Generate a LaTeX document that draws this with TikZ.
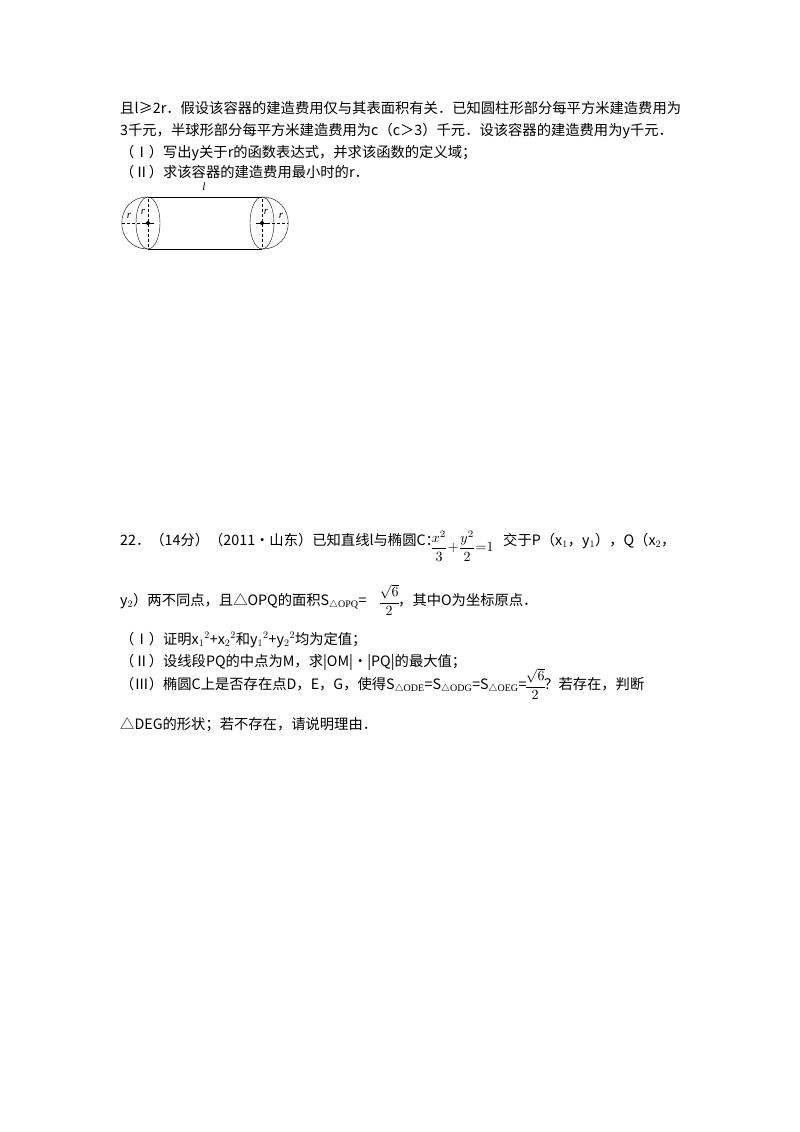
\documentclass[tikz,border=0pt]{standalone}
\usepackage{fontspec}
\setmainfont{Liberation Serif}
\newfontfamily\cjk{Noto Sans CJK SC}
\begin{document}
\begin{tikzpicture}[x=1pt,y=-1pt,
  txt/.style={anchor=base west,inner sep=0pt,font=\cjk\fontsize{14.3}{16}\selectfont},
  frac/.style={inner sep=0pt,anchor=west},
  lbl/.style={inner sep=0pt,font=\itshape\fontsize{11}{12}\selectfont}]
\useasboundingbox[fill=white] (0,0) rectangle (800,1132);
\node[txt] (l1) at (120,113) {且l≥2r．假设该容器的建造费用仅与其表面积有关．已知圆柱形部分每平方米建造费用为};
\node[txt] (l2) at (120,135) {3千元，半球形部分每平方米建造费用为c（c＞3）千元．设该容器的建造费用为y千元．};
\node[txt] (l3) at (120,157) {（Ⅰ）写出y关于r的函数表达式，并求该函数的定义域；};
\node[txt] (l4) at (120,177) {（Ⅱ）求该容器的建造费用最小时的r．};
% figure
\draw (148,197) -- (262,197) (148,249) -- (262,249);
\draw (148,223) ellipse (12 and 26);
\draw (262,223) ellipse (12 and 26);
\draw (148,197) .. controls (113,197) and (113,249) .. (148,249);
\draw (262,197) .. controls (297,197) and (297,249) .. (262,249);
\draw[densely dashed] (148,199) -- (148,247) (262,199) -- (262,247);
\draw[densely dashed] (122,223) -- (148,223) (262,223) -- (288,223);
\fill (148,223) circle (2) (262,223) circle (2);
\draw (142,223) -- (154,223) (256,223) -- (268,223);
\node[lbl] (ll) at (204,187) {l};
\node[lbl] (r1) at (129,216) {r};
\node[lbl] (r2) at (143,212) {r};
\node[lbl] (r3) at (266,212) {r};
\node[lbl] (r4) at (281,216) {r};
% problem 22
\node[txt] (p1) at (120,545) {22．（14分）（2011•山东）已知直线l与椭圆C：};
\node[frac] (f1) at (430,546) {\scalebox{1.4}{$\displaystyle\frac{x^2}{3}{+}\frac{y^2}{2}{=}1$}};
\node[txt] (p1b) at (503,545) {交于P（x$_1$，y$_1$），Q（x$_2$，};
\node[txt] (p2) at (120,605) {y$_2$）两不同点，且△OPQ的面积S$_{\triangle\mathrm{OPQ}}$=};
\node[frac] (f2) at (378,600) {\scalebox{1.4}{$\displaystyle\frac{\sqrt{6}}{2}$}};
\node[txt] (p2b) at (398,605) {，其中O为坐标原点．};
\node[txt] (p3) at (120,644) {（Ⅰ）证明x$_1{}^2$+x$_2{}^2$和y$_1{}^2$+y$_2{}^2$均为定值；};
\node[txt] (p4) at (120,666) {（Ⅱ）设线段PQ的中点为M，求|OM|•|PQ|的最大值；};
\node[txt] (p5) at (120,689) {（Ⅲ）椭圆C上是否存在点D，E，G，使得S$_{\triangle\mathrm{ODE}}$=S$_{\triangle\mathrm{ODG}}$=S$_{\triangle\mathrm{OEG}}$=};
\node[frac] (f3) at (524,684) {\scalebox{1.4}{$\displaystyle\frac{\sqrt{6}}{2}$}};
\node[txt] (p5b) at (544,689) {？若存在，判断};
\node[txt] (p6) at (120,729) {△DEG的形状；若不存在，请说明理由．};
\end{tikzpicture}
\end{document}
